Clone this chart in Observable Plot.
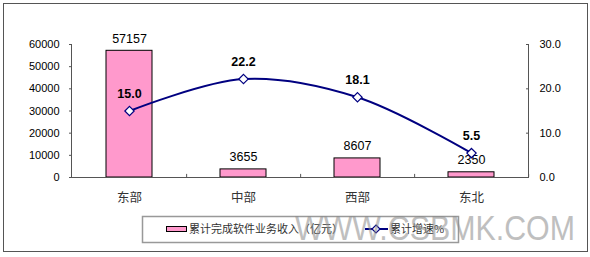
<!DOCTYPE html>
<html>
<head>
<meta charset="utf-8">
<script src="https://cdn.jsdelivr.net/npm/d3@7"></script>
<script src="https://cdn.jsdelivr.net/npm/@observablehq/plot@0.6"></script>
<style>
  html, body { margin: 0; padding: 0; background: #fff; }
  #wrap { position: relative; width: 590px; height: 257px; overflow: hidden; }
  #wrap svg { position: absolute; left: 0; top: 0; }
</style>
</head>
<body>
<div id="wrap"></div>
<script>
const categories = ["东部", "中部", "西部", "东北"];
const revenue = [57157, 3655, 8607, 2350];
const growth = [15.0, 22.2, 18.1, 5.5];
const leftTicks = [0, 10000, 20000, 30000, 40000, 50000, 60000];
const rightTicks = [0, 10, 20, 30];
const seriesNames = ["累计完成软件业务收入（亿元）", "累计增速%"];
const watermark = "WWW.CSBMK.COM";

const k = 60000 / 30; // map right axis onto left scale
const data = categories.map((c, i) => ({cat: c, rev: revenue[i], g: growth[i]}));

const W = 590, H = 257, mL = 71, mR = 62, mT = 44, mB = 80;
const halfStep = (W - mL - mR) / categories.length / 2;
const font = "'Liberation Sans', Arial, sans-serif";

const chart = Plot.plot({
  width: W, height: H,
  marginLeft: mL, marginRight: mR, marginTop: mT, marginBottom: mB,
  style: {fontFamily: font, fontSize: "11px", color: "#000", background: "transparent"},
  x: {domain: categories, paddingInner: 0.6, paddingOuter: 0.3},
  y: {domain: [0, 60000]},
  marks: [
    Plot.barY(data, {x: "cat", y: "rev", fill: "#FF99CC", stroke: "#000", strokeWidth: 1}),
    Plot.ruleY([0], {stroke: "#555"}),
    Plot.frame({anchor: "left", stroke: "#555"}),
    Plot.frame({anchor: "right", stroke: "#555"}),
    Plot.ruleX(categories, {x: d => d, y1: 0, y2: 1400, dx: halfStep, stroke: "#555"}),
    Plot.axisY({anchor: "left", ticks: leftTicks, tickFormat: d => String(d), tickSize: 2, tickPadding: 10, fontSize: 11, label: null, stroke: "#555"}),
    Plot.axisY({anchor: "right", ticks: rightTicks.map(v => v * k), tickFormat: null, text: null, tickSize: -3, label: null, stroke: "#555"}),
    Plot.axisY({anchor: "right", ticks: rightTicks.map(v => v * k), tickFormat: v => (v / k).toFixed(1), tickSize: 0, tickPadding: 11, fontSize: 11, label: null}),
    Plot.axisX({anchor: "bottom", tickSize: 0, tickPadding: 16, fontSize: 12.5, fontFamily: "'Noto Sans CJK SC', sans-serif", fill: "#333", label: null}),
    Plot.text(data, {x: "cat", y: "rev", text: d => String(d.rev), dy: -12, fontSize: 12.5, fill: "#000"}),
    Plot.line(data, {x: "cat", y: d => d.g * k, stroke: "#000080", strokeWidth: 2, curve: "catmull-rom"}),
    Plot.dot(data, {x: "cat", y: d => d.g * k, symbol: "diamond2", r: 4.2, stroke: "#000080", fill: "#fff", strokeWidth: 1.2}),
    Plot.text(data, {x: "cat", y: d => d.g * k, text: d => d.g.toFixed(1), dy: -17, fontSize: 12.5, fontWeight: "bold", fill: "#000"})
  ]
});
document.getElementById("wrap").appendChild(chart);

// overlay: border, legend, watermark
const ov = d3.select("#wrap").append("svg").attr("width", W).attr("height", H)
  .style("font-family", "'Noto Sans CJK SC', sans-serif");
ov.append("rect").attr("x", 3.5).attr("y", 3.5).attr("width", 584).attr("height", 248)
  .attr("fill", "none").attr("stroke", "#555").attr("stroke-width", 1);
ov.append("rect").attr("x", 142.5).attr("y", 216.5).attr("width", 316).attr("height", 26)
  .attr("fill", "none").attr("stroke", "#999").attr("stroke-width", 1.5);
ov.append("rect").attr("x", 166.5).attr("y", 226.5).attr("width", 20).attr("height", 5)
  .attr("fill", "#FF99CC").attr("stroke", "#000").attr("stroke-width", 1);
ov.append("text").attr("x", 189).attr("y", 229.5).attr("dy", "0.35em")
  .attr("font-size", 11).attr("fill", "#333").text(seriesNames[0]);
ov.append("line").attr("x1", 365).attr("x2", 388).attr("y1", 229).attr("y2", 229)
  .attr("stroke", "#000080").attr("stroke-width", 2);
ov.append("path").attr("d", "M376,225L380,229L376,233L372,229Z")
  .attr("fill", "#fff").attr("stroke", "#000080").attr("stroke-width", 1.2);
ov.append("text").attr("x", 390).attr("y", 229.5).attr("dy", "0.35em")
  .attr("font-size", 11).attr("fill", "#333").text(seriesNames[1]);
ov.append("text").attr("x", 295).attr("y", 240)
  .attr("font-family", font).attr("font-size", 35)
  .attr("textLength", 280).attr("lengthAdjust", "spacingAndGlyphs")
  .attr("fill", "#8c8c8c").attr("opacity", 0.55).text(watermark);
</script>
</body>
</html>
